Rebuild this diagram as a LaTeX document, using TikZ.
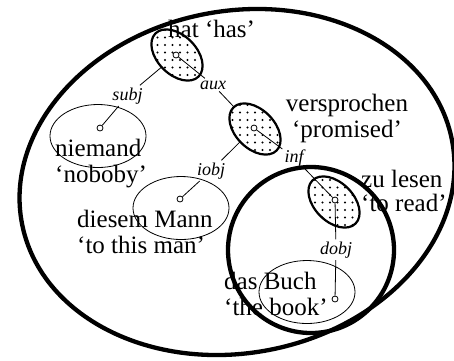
\documentclass[tikz,border=0pt]{standalone}
\usepackage{fontspec}
\setmainfont{Liberation Serif}
\usetikzlibrary{shapes.geometric,patterns.meta}
\begin{document}
\begin{tikzpicture}[x=1pt,y=1pt,
  bigring/.style={line width=4.3pt},
  headnode/.style={ellipse, draw, line width=2.2pt, inner sep=0pt,
    minimum width=61pt, minimum height=39pt, rotate=-45,
    preaction={fill=white}, pattern={Dots[distance=7.5pt,radius=1.2pt]}},
  depnode/.style={ellipse, draw, line width=0.8pt, inner sep=0pt,
    minimum width=96pt, minimum height=63pt},
  dotnode/.style={circle, draw, line width=0.8pt, inner sep=0pt,
    minimum size=6pt, fill=white},
  word/.style={font=\fontsize{25}{26}\selectfont, inner sep=0pt},
  rel/.style={font=\fontsize{18}{20}\selectfont\itshape, inner sep=2pt},
  link/.style={line width=0.8pt}]
\useasboundingbox (0,0) rectangle (454,-360);

% large domains
\draw[bigring, rotate around={11:(237,-182)}] (237,-182) ellipse [x radius=219pt, y radius=171pt];
\draw[bigring] (311,-250) ellipse [x radius=83pt, y radius=83pt];

% centres of the head nodes
\coordinate (hatC) at (176,-55);
\coordinate (versC) at (254,-128);
\coordinate (zuC) at (335,-200);

% dependent ellipses
\node[depnode] (nieE) at (98,-136) {};
\node[depnode] (diesE) at (181,-208) {};
\node[depnode] (buchE) at (307,-292) {};

% relation labels
\node[rel, anchor=base] (subj) at (127.5,-100) {subj};
\node[rel, anchor=base] (aux) at (213,-89) {aux};
\node[rel, anchor=base] (iobj) at (211,-175) {iobj};
\node[rel, anchor=base] (inf) at (294,-162) {inf};
\node[rel, anchor=base] (dobj) at (336,-254) {dobj};

% dependent dots
\node[dotnode] (nieD) at (100,-128) {};
\node[dotnode] (diesD) at (180,-199) {};
\node[dotnode] (buchD) at (335,-299) {};

% connectors hidden under head ellipses
\draw[link] (hatC) -- (subj);
\draw[link] (subj) -- (nieD);
\draw[link] (aux) -- (versC);
\draw[link] (versC) -- (iobj);
\draw[link] (iobj) -- (diesD);

% head ellipses
\node[headnode] (hatE) at (177,-55) {};
\node[headnode] (versE) at (255,-129) {};
\node[headnode] (zuE) at (334,-202) {};

% head dots
\node[dotnode] (hatD) at (hatC) {};
\node[dotnode] (versD) at (versC) {};
\node[dotnode] (zuD) at (zuC) {};

% visible connectors
\draw[link] (hatD) -- (aux);
\draw[link] (versD) -- (inf);
\draw[link] (inf) -- (zuD);
\draw[link] (zuD) -- (dobj);
\draw[link] (dobj) -- (buchD);

% words (base anchor = baseline of the last line)
\node[word, anchor=base west] (hatW) at (168,-37) {hat ‘has’};
\node[word, anchor=base, align=center] (versW) at (347,-137) {versprochen\\‘promised’};
\node[word, anchor=base west, align=left] (nieW) at (55,-182) {niemand\\‘noboby’};
\node[word, anchor=base west, align=left] (diesW) at (77,-253) {diesem Mann\\‘to this man’};
\node[word, anchor=base west, align=left] (zuW) at (361,-211) {zu lesen\\[-2pt]‘to read’};
\node[word, anchor=base west, align=left] (buchW) at (224,-315) {das Buch\\‘the book’};
\end{tikzpicture}
\end{document}
